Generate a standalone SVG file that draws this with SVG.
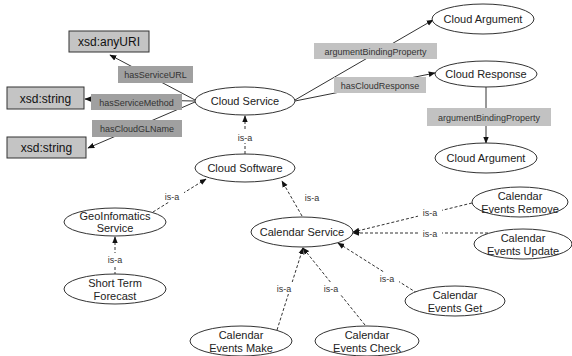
<svg xmlns="http://www.w3.org/2000/svg" width="572" height="356" viewBox="0 0 572 356">
<style>
.n{fill:#fff;stroke:#333;stroke-width:1}
.t{font-family:"Liberation Sans",Arial,sans-serif;font-size:11px;fill:#222;text-anchor:middle}
.x{fill:#c4c4c4;stroke:#333;stroke-width:1}
.xt{font-family:"Liberation Sans",Arial,sans-serif;font-size:12px;fill:#111;text-anchor:middle}
.lbl{font-family:"Liberation Sans",Arial,sans-serif;font-size:9px;fill:#333;text-anchor:middle}
.la{fill:#a0a0a0}
.lb{fill:#c2c2c2}
.s{stroke:#333;stroke-width:1;fill:none;marker-end:url(#a)}
.d{stroke:#333;stroke-width:1;fill:none;stroke-dasharray:3,2;marker-end:url(#a)}
</style>
<defs>
<marker id="a" viewBox="0 0 10 10" refX="9" refY="5" markerWidth="7" markerHeight="7" orient="auto" markerUnits="userSpaceOnUse">
<path d="M0,1 L10,5 L0,9 z" fill="#111"/>
</marker>
</defs>
<rect width="572" height="356" fill="#fff"/>
<g id="connectors">
<line class="s" x1="195" y1="100" x2="110" y2="55"/>
<line class="s" x1="195" y1="101" x2="85" y2="99"/>
<line class="s" x1="195" y1="102" x2="88" y2="148"/>
<line class="s" x1="295" y1="100" x2="433" y2="20"/>
<line class="s" x1="295" y1="101" x2="435" y2="73"/>
<line class="s" x1="486" y1="87" x2="486" y2="143"/>
<line class="d" x1="245" y1="154" x2="245" y2="116"/>
<line class="d" x1="153" y1="212" x2="206" y2="179"/>
<line class="d" x1="115" y1="275" x2="115" y2="237"/>
<line class="d" x1="302" y1="216" x2="282" y2="181"/>
<line class="d" x1="472" y1="203" x2="353" y2="232"/>
<line class="d" x1="488" y1="233" x2="353" y2="233"/>
<line class="d" x1="417" y1="293" x2="338" y2="243"/>
<line class="d" x1="277" y1="330" x2="303" y2="248"/>
<line class="d" x1="365" y1="325" x2="303" y2="248"/>
<g id="edge-labels">
<rect class="la" x="118" y="66" width="75" height="17"/>
<text class="lbl" x="155.5" y="78">hasServiceURL</text>
<rect class="la" x="91" y="94" width="91" height="16"/>
<text class="lbl" x="136.5" y="105.5">hasServiceMethod</text>
<rect class="la" x="92" y="120" width="90" height="17"/>
<text class="lbl" x="137" y="132">hasCloudGLName</text>
<rect class="lb" x="314" y="43" width="123" height="16"/>
<text class="lbl" x="375.5" y="54.5">argumentBindingProperty</text>
<rect class="lb" x="334" y="77" width="92" height="16"/>
<text class="lbl" x="380" y="88.5">hasCloudResponse</text>
<rect class="lb" x="427" y="108" width="124" height="18"/>
<text class="lbl" x="489" y="120.5">argumentBindingProperty</text>
<rect fill="#fff" x="233" y="131" width="24" height="12"/>
<text class="lbl" x="245" y="141">is-a</text>
<rect fill="#fff" x="160" y="190" width="24" height="12"/>
<text class="lbl" x="172" y="200">is-a</text>
<rect fill="#fff" x="103" y="253" width="24" height="12"/>
<text class="lbl" x="115" y="263">is-a</text>
<rect fill="#fff" x="300" y="191" width="24" height="12"/>
<text class="lbl" x="312" y="201">is-a</text>
<rect fill="#fff" x="418" y="206" width="24" height="12"/>
<text class="lbl" x="430" y="216">is-a</text>
<rect fill="#fff" x="418" y="227" width="24" height="12"/>
<text class="lbl" x="430" y="237">is-a</text>
<rect fill="#fff" x="375" y="272" width="24" height="12"/>
<text class="lbl" x="387" y="282">is-a</text>
<rect fill="#fff" x="272" y="282" width="24" height="12"/>
<text class="lbl" x="284" y="292">is-a</text>
<rect fill="#fff" x="319" y="282" width="24" height="12"/>
<text class="lbl" x="331" y="292">is-a</text>
</g>
</g>
<g id="xsd-anyURI"><rect class="x" x="69" y="31" width="80" height="21"/><text class="xt" x="109" y="46">xsd:anyURI</text></g>
<g id="xsd-string-1"><rect class="x" x="7" y="87" width="77" height="22"/><text class="xt" x="45.5" y="102.5">xsd:string</text></g>
<g id="xsd-string-2"><rect class="x" x="7" y="137" width="79" height="21"/><text class="xt" x="46.5" y="152">xsd:string</text></g>
<g id="cloud-service"><ellipse class="n" cx="245" cy="101" rx="50" ry="14"/><text class="t" x="245" y="105">Cloud Service</text></g>
<g id="cloud-software"><ellipse class="n" cx="245" cy="168" rx="50" ry="14"/><text class="t" x="245" y="172">Cloud Software</text></g>
<g id="cloud-argument-1"><ellipse class="n" cx="483" cy="19" rx="51" ry="15"/><text class="t" x="483" y="23">Cloud Argument</text></g>
<g id="cloud-response"><ellipse class="n" cx="486" cy="74" rx="51" ry="13"/><text class="t" x="486" y="78">Cloud Response</text></g>
<g id="cloud-argument-2"><ellipse class="n" cx="486" cy="158" rx="51" ry="15"/><text class="t" x="486" y="162">Cloud Argument</text></g>
<g id="geoinfomatics-service"><ellipse class="n" cx="115" cy="222" rx="51" ry="14"/><text class="t" x="115" y="219.5">GeoInfomatics</text><text class="t" x="115" y="232">Service</text></g>
<g id="short-term-forecast"><ellipse class="n" cx="115" cy="289" rx="51" ry="15"/><text class="t" x="115" y="287">Short Term</text><text class="t" x="115" y="300">Forecast</text></g>
<g id="calendar-service"><ellipse class="n" cx="302" cy="232" rx="51" ry="15"/><text class="t" x="302" y="236">Calendar Service</text></g>
<g id="calendar-events-remove"><ellipse class="n" cx="520" cy="202" rx="48" ry="15"/><text class="t" x="520" y="200">Calendar</text><text class="t" x="520" y="213">Events Remove</text></g>
<g id="calendar-events-update"><ellipse class="n" cx="523" cy="244" rx="49" ry="15"/><text class="t" x="523" y="242">Calendar</text><text class="t" x="523" y="255">Events Update</text></g>
<g id="calendar-events-get"><ellipse class="n" cx="455" cy="301" rx="50" ry="15"/><text class="t" x="455" y="299">Calendar</text><text class="t" x="455" y="312">Events Get</text></g>
<g id="calendar-events-make"><ellipse class="n" cx="241" cy="341" rx="51" ry="15"/><text class="t" x="241" y="339">Calendar</text><text class="t" x="241" y="352">Events Make</text></g>
<g id="calendar-events-check"><ellipse class="n" cx="367" cy="341" rx="52" ry="15"/><text class="t" x="367" y="339">Calendar</text><text class="t" x="367" y="352">Events Check</text></g>
</svg>
